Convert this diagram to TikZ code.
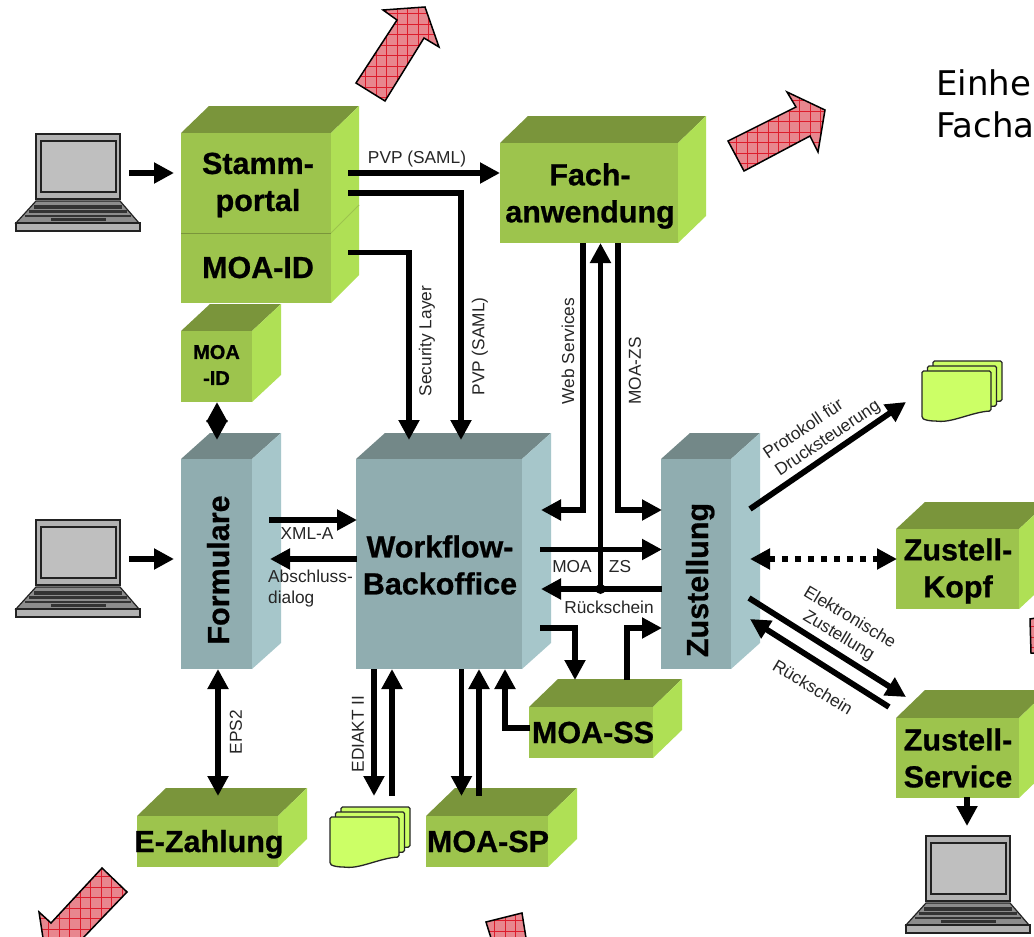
\documentclass[tikz,border=0pt]{standalone}
\usepackage{fontspec}
\setmainfont{Liberation Sans}
\newfontfamily\headfont{DejaVu Sans}
\newfontfamily\heavyfont[FakeBold=0.7]{Liberation Sans Bold}
\usetikzlibrary{arrows.meta}
\definecolor{gfront}{HTML}{9DC44D}
\definecolor{gtop}{HTML}{7A953B}
\definecolor{gside}{HTML}{AFE055}
\definecolor{bfront}{HTML}{90ADB0}
\definecolor{btop}{HTML}{738888}
\definecolor{bside}{HTML}{A6C6CA}
\definecolor{pagefill}{HTML}{CCFF66}
\definecolor{redfill}{HTML}{E8868E}
\definecolor{redgrid}{HTML}{DD1C2C}
\definecolor{lapline}{HTML}{222222}
\tikzset{
  bigarrow/.style={line width=5.8pt,-{Triangle[length=20pt,width=20pt]}},
  twoarrow/.style={line width=5.8pt,{Triangle[length=20pt,width=20pt]}-{Triangle[length=20pt,width=20pt]}},
  frontbox/.style={inner sep=0pt,outer sep=0pt,draw=none},
  boxtext/.style={font=\fontsize{30.5}{37}\heavyfont\selectfont,align=center,inner sep=0pt,text=black},
  smallbox/.style={font=\fontsize{20}{26}\heavyfont\selectfont,align=center,inner sep=0pt},
  note/.style={font=\fontsize{17.3}{21}\selectfont,inner sep=0pt,text=black!85},
  gridline/.style={draw=redgrid,line width=0.6pt},
  redoutline/.style={draw=black,line width=1.5pt,line join=miter},
  pageshape/.style={draw=black!85,line width=1.3pt,fill=pagefill,rounded corners=1.5pt}
}
% polygon, x start, x end, y start, y end of the grid
\newcommand{\redarrow}[5]{%
  \begin{scope}
    \clip #1;
    \fill[redfill] #1;
    \foreach \gx in {0,...,12}{\draw[gridline] (#2+\gx*10.5,#4) -- (#2+\gx*10.5,#5);}
    \foreach \gy in {0,...,12}{\draw[gridline] (#2,#4+\gy*10.5) -- (#3,#4+\gy*10.5);}
  \end{scope}
  \draw[redoutline] #1;
}
% name, x1, y1, x2, y2, right x, top y, colour prefix
\newcommand{\gcube}[8]{%
  \fill[#8top] (#2,#3) -- (#2+#6-#4,#7) -- (#6,#7) -- (#4,#3) -- cycle;
  \fill[#8side] (#4,#3) -- (#6,#7) -- (#6,#5+#7-#3) -- (#4,#5) -- cycle;
  \pgfmathsetmacro{\bw}{#4-#2}\pgfmathsetmacro{\bh}{#5-#3}
  \pgfmathsetmacro{\bx}{(#2+#4)/2}\pgfmathsetmacro{\by}{(#3+#5)/2}
  \node[frontbox,fill=#8front,minimum width=\bw pt,minimum height=\bh pt] (#1) at (\bx,\by) {};
}
\newcommand{\laptop}[3]{%
  \node[frontbox,minimum width=124pt,minimum height=98pt,anchor=north west] (#1) at (#2,#3) {};
  \begin{scope}[shift={(#2,#3)}]
    \filldraw[fill=black!45,draw=lapline,line width=1.2pt] (20,67) -- (104,67) -- (123,89) -- (0,89) -- cycle;
    \filldraw[fill=black!30,draw=lapline,line width=1.2pt] (0,89) rectangle (124,97);
    \fill[black!80] (18,71) rectangle (106,75);
    \fill[black!80] (13,76) rectangle (111,79);
    \fill[black!80] (9,81) rectangle (115,83);
    \fill[black!80] (35,84) rectangle (90,87);
    \filldraw[fill=black!30,draw=lapline,line width=1.2pt] (20,0) rectangle (104,65);
    \filldraw[fill=black!25,draw=lapline,line width=1.2pt] (25,7) rectangle (100,58);
  \end{scope}
}
\newcommand{\onepage}[2]{%
  \path[pageshape] (#1,#2) -- (#1+69,#2) -- (#1+69,#2+40)
    .. controls (#1+50,#2+41) and (#1+30,#2+52) .. (#1+14,#2+50)
    .. controls (#1+8,#2+50) and (#1+3,#2+49) .. (#1,#2+47) -- cycle;
}
\newcommand{\pagestack}[3]{%
  \node[frontbox,minimum width=80pt,minimum height=60pt,anchor=north west] (#1) at (#2,#3-10) {};
  \onepage{#2+11}{#3-10}
  \onepage{#2+5.5}{#3-5}
  \onepage{#2}{#3}
}
\begin{document}
\begin{tikzpicture}[x=1pt,y=-1pt]
\clip (0,0) rectangle (1034,937);
\fill[white] (0,0) rectangle (1034,937);

% red arrows
\redarrow{(356,83) -- (385,101) -- (424,38) -- (439,47) -- (425,7) -- (383,10) -- (397,20) -- cycle}{355}{445}{3}{105}
\redarrow{(728,141) -- (744,171) -- (810,136) -- (818,152) -- (825,110) -- (787,92) -- (796,107) -- cycle}{726}{830}{90}{175}
\redarrow{(102,868) -- (127,892) -- (83,938) -- (43,938) -- (39,912) -- (51,923) -- cycle}{38}{130}{866}{940}
\redarrow{(486,922) -- (522,913) -- (526,938) -- (491,938) -- cycle}{484}{528}{910}{940}
\redarrow{(1030,619) -- (1036,618) -- (1036,653) -- (1031,653) -- cycle}{1028}{1036}{616}{655}

% heading text
\node[font=\fontsize{34}{42}\selectfont\headfont,align=left,anchor=base west,inner sep=0pt] (head1) at (936,95) {Einhe};
\node[font=\fontsize{34}{42}\selectfont\headfont,align=left,anchor=base west,inner sep=0pt] (head2) at (936,137) {Facha};

% boxes
\gcube{moaid}{181}{233}{331}{303}{359}{205}{g}
\gcube{stamm}{181}{133}{331}{233}{359}{106}{g}
\draw[gtop,line width=1pt] (stamm.south west) -- (stamm.south east);
\draw[gfront,line width=0.8pt] (stamm.south east) -- (359,205);
\gcube{fach}{500}{143}{678}{243}{706}{116}{g}
\gcube{moaidb}{181}{331}{252}{402}{281}{304}{g}
\gcube{formulare}{181}{459}{252}{669}{281}{433}{b}
\gcube{workflow}{356}{459}{522}{669}{551}{433}{b}
\gcube{zustellung}{661}{459}{731}{669}{760}{433}{b}
\gcube{ezahlung}{137}{816}{278}{867}{307}{788}{g}
\gcube{moasp}{426}{816}{548}{867}{577}{788}{g}
\gcube{moass}{529}{707}{653}{758}{682}{679}{g}
\gcube{kopf}{896}{529}{1019}{609}{1048}{502}{g}
\gcube{service}{896}{718}{1019}{798}{1048}{690}{g}

\laptop{lapa}{16}{134}
\laptop{lapb}{16}{520}
\laptop{lapc}{906}{836}
\pagestack{pagesa}{922}{371}
\pagestack{pagesb}{330}{817}

% connector end points
\coordinate (lapa-o) at (129,173);   \coordinate (stamm-i) at (174,173);
\coordinate (stamm-o1) at (348,173); \coordinate (fach-i) at (500,173);
\coordinate (stamm-o2) at (348,193); \coordinate (wf-i2) at (461,440);
\coordinate (moaid-o) at (348,252.5);\coordinate (wf-i1) at (409,440);
\coordinate (moab-s) at (217,402);   \coordinate (form-n) at (217,440);
\coordinate (lapb-o) at (129,559);   \coordinate (form-i) at (174,559);
\coordinate (form-o) at (269,520);   \coordinate (wf-w1) at (357,520);
\coordinate (wf-w2) at (357,559);    \coordinate (form-e) at (270,559);
\coordinate (form-s) at (218,669);   \coordinate (ez-n) at (218,796);
\coordinate (wf-s1) at (374,669);    \coordinate (pb-n1) at (374,796);
\coordinate (pb-n2) at (392,796);    \coordinate (wf-s2) at (392,669);
\coordinate (wf-s3) at (461.5,669);  \coordinate (sp-n1) at (461.5,796);
\coordinate (sp-n2) at (479,796);    \coordinate (wf-s4) at (479,669);
\coordinate (ss-w) at (530,728);     \coordinate (wf-s5) at (505,669);
\coordinate (fach-s1) at (583,243);  \coordinate (wf-e1) at (541,510);
\coordinate (fach-s2) at (618,243);  \coordinate (zu-w1) at (662,510);
\coordinate (dot) at (600.5,589);    \coordinate (fach-s3) at (600.5,243);
\coordinate (wf-e2) at (540,549.5);  \coordinate (zu-w2) at (662,549.5);
\coordinate (zu-w3) at (662,589);    \coordinate (wf-e3) at (541,589);
\coordinate (wf-e4) at (540,628);    \coordinate (ss-n1) at (575,680);
\coordinate (ss-n2) at (627,680);    \coordinate (zu-w4) at (662,628);
\coordinate (zu-e1) at (750,509);    \coordinate (pa-i) at (906,402);
\coordinate (zu-e2) at (750,559);    \coordinate (kopf-w) at (897,559);
\coordinate (zu-e3) at (749,598);    \coordinate (sv-n1) at (906,697);
\coordinate (sv-n2) at (889,707);    \coordinate (zu-e4) at (750,619);
\coordinate (sv-s) at (967,797);     \coordinate (lapc-n) at (967,826);

% connectors
\draw[bigarrow] (lapa-o) -- (stamm-i);
\draw[bigarrow] (stamm-o1) -- (fach-i);
\draw[bigarrow] (stamm-o2) -| (wf-i2);
\draw[bigarrow] (moaid-o) -| (wf-i1);
\draw[twoarrow] (moab-s) -- (form-n);
\draw[bigarrow] (lapb-o) -- (form-i);
\draw[bigarrow] (form-o) -- (wf-w1);
\draw[bigarrow] (wf-w2) -- (form-e);
\draw[twoarrow] (form-s) -- (ez-n);
\draw[bigarrow] (wf-s1) -- (pb-n1);
\draw[bigarrow] (pb-n2) -- (wf-s2);
\draw[bigarrow] (wf-s3) -- (sp-n1);
\draw[bigarrow] (sp-n2) -- (wf-s4);
\draw[bigarrow] (ss-w) -| (wf-s5);
\draw[bigarrow] (fach-s1) |- (wf-e1);
\draw[bigarrow] (fach-s2) |- (zu-w1);
\draw[bigarrow] (dot) -- (fach-s3);
\draw[bigarrow] (wf-e2) -- (zu-w2);
\draw[bigarrow] (zu-w3) -- (wf-e3);
\fill (dot) circle (5);
\draw[bigarrow] (wf-e4) -| (ss-n1);
\draw[bigarrow] (ss-n2) |- (zu-w4);
\draw[bigarrow] (zu-e1) -- (pa-i);
\draw[twoarrow,dash pattern=on 6pt off 7pt] (zu-e2) -- (kopf-w);
\draw[bigarrow] (zu-e3) -- (sv-n1);
\draw[bigarrow] (sv-n2) -- (zu-e4);
\draw[bigarrow] (sv-s) -- (lapc-n);

% box labels
\node[boxtext] (t1) at (258,185) {Stamm-\\portal};
\node[boxtext,anchor=base] (t2) at (258,278) {MOA-ID};
\node[boxtext] (t3) at (590,196) {Fach-\\anwendung};
\node[smallbox] (t4) at (216.5,365) {MOA\\-ID};
\node[boxtext,rotate=90,anchor=base] (t5) at (229,570) {Formulare};
\node[boxtext] (t6) at (440,565) {Workflow-\\Backoffice};
\node[boxtext,rotate=90,anchor=base] (t7) at (708,580) {Zustellung};
\node[boxtext,anchor=base] (t8) at (209,852) {E-Zahlung};
\node[boxtext,anchor=base] (t9) at (488,852) {MOA-SP};
\node[boxtext,anchor=base] (t10) at (593,743) {MOA-SS};
\node[boxtext] (t11) at (958,571) {Zustell-\\Kopf};
\node[boxtext] (t12) at (958,758) {Zustell-\\Service};

% connector labels
\node[note] (n1) at (417,159) {PVP (SAML)};
\node[note,rotate=90] (n2) at (427,341) {Security Layer};
\node[note,rotate=90] (n3) at (480,346.5) {PVP (SAML)};
\node[note,rotate=90] (n4) at (568,351) {Web Services};
\node[note,rotate=90] (n5) at (635,371) {MOA-ZS};
\node[note,rotate=34,align=left] (n6) at (822,430) {Protokoll für\\Drucksteuerung};
\node[note,rotate=-31,align=center] (n7) at (844,627) {Elektronische\\Zustellung};
\node[note,rotate=-31] (n8) at (813,687) {Rückschein};
\node[note] (n9) at (307,534) {XML-A};
\node[note,align=left,anchor=north west] (n10) at (268,570) {Abschluss-\\dialog};
\node[note,rotate=90] (n11) at (236,732) {EPS2};
\node[note,rotate=90] (n12) at (358,734) {EDIAKT II};
\node[note] (n13) at (572,567) {MOA};
\node[note] (n14) at (620,567) {ZS};
\node[note] (n15) at (609,607) {Rückschein};
\end{tikzpicture}
\end{document}
